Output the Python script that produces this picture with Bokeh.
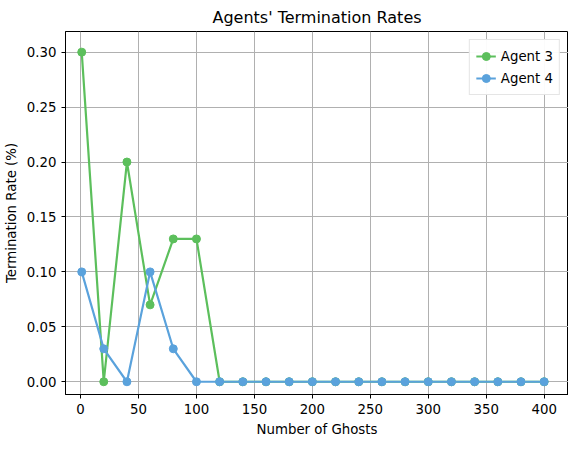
from bokeh.plotting import figure
from bokeh.models import Range1d, FixedTicker, Legend, LegendItem, CustomJSTickFormatter
from bokeh.embed import file_html
from bokeh.resources import INLINE

ghosts = [1, 20, 40, 60, 80, 100, 120, 140, 160, 180, 200, 220, 240, 260, 280, 300, 320, 340, 360, 380, 400]
agent3 = [0.30, 0.0, 0.20, 0.07, 0.13, 0.13] + [0.0] * 15
agent4 = [0.10, 0.03, 0.0, 0.10, 0.03, 0.0] + [0.0] * 15
x_ticks = list(range(0, 401, 50))
y_ticks = [0.0, 0.05, 0.10, 0.15, 0.20, 0.25, 0.30]

p = figure(width=568, height=439, output_backend="svg", toolbar_location=None,
           title="Agents' Termination Rates",
           x_range=Range1d(-13, 421), y_range=Range1d(-0.0116, 0.3188),
           min_border_left=58, min_border_right=0, min_border_top=20, min_border_bottom=40)
p.title.align = "center"
p.title.text_font = "DejaVu Sans"
p.title.text_font_size = "12pt"
p.title.text_font_style = "normal"
p.title.text_color = "black"
p.xaxis.axis_label = "Number of Ghosts"
p.yaxis.axis_label = "Termination Rate (%)"
for ax in (p.xaxis[0], p.yaxis[0]):
    ax.axis_label_text_font = "DejaVu Sans"
    ax.axis_label_text_font_style = "normal"
    ax.axis_label_text_font_size = "10pt"
    ax.axis_label_text_color = "black"
    ax.major_label_text_font = "DejaVu Sans"
    ax.major_label_text_font_size = "10pt"
    ax.major_label_text_color = "black"
    ax.minor_tick_line_color = None
    ax.major_tick_out = 4
    ax.major_tick_in = 0
    ax.axis_line_color = "black"
    ax.major_tick_line_color = "black"
p.xaxis.ticker = FixedTicker(ticks=x_ticks)
p.yaxis.ticker = FixedTicker(ticks=y_ticks)
p.yaxis.formatter = CustomJSTickFormatter(code="return tick.toFixed(2);")
p.xgrid.grid_line_color = "#b0b0b0"
p.ygrid.grid_line_color = "#b0b0b0"
p.outline_line_color = "black"

l3 = p.line(ghosts, agent3, line_width=2.2, color="#5cbf5c")
c3 = p.scatter(ghosts, agent3, size=8, color="#5cbf5c")
l4 = p.line(ghosts, agent4, line_width=2.2, color="#5aa2dc")
c4 = p.scatter(ghosts, agent4, size=8, color="#5aa2dc")

leg = Legend(items=[LegendItem(label="Agent 3", renderers=[l3, c3]),
                    LegendItem(label="Agent 4", renderers=[l4, c4])],
             location="top_right", label_text_font="DejaVu Sans", label_text_font_size="10pt",
             label_text_color="black",
             border_line_color="#cccccc", spacing=2, padding=6, margin=8)
p.add_layout(leg)

open("out.html", "w").write(file_html(p, INLINE))
